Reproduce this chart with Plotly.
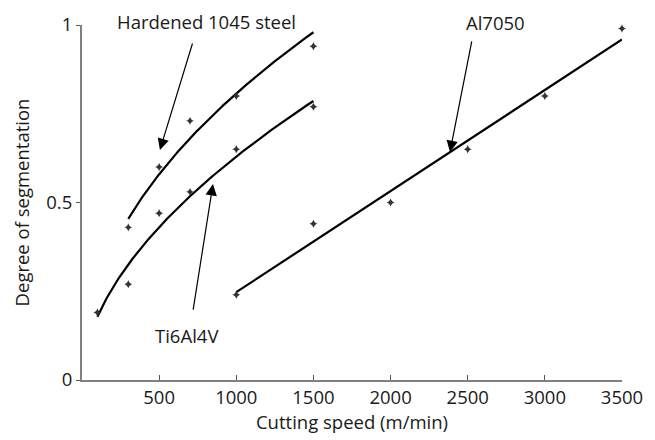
import numpy as np
import plotly.graph_objects as go

# Measured data
steel_speed = [300, 500, 700, 1000, 1500]
steel_seg = [0.43, 0.60, 0.73, 0.80, 0.94]

ti_speed = [100, 300, 500, 700, 1000, 1500]
ti_seg = [0.19, 0.27, 0.47, 0.53, 0.65, 0.77]

al_speed = [1000, 1500, 2000, 2500, 3000, 3500]
al_seg = [0.24, 0.44, 0.50, 0.65, 0.80, 0.99]

x_ticks = [500, 1000, 1500, 2000, 2500, 3000, 3500]
y_ticks = [0, 0.5, 1]

FONT = "Open Sans"
FS = 18.5


def power_fit(xs, ys):
    xs = np.asarray(xs, float)
    ys = np.asarray(ys, float)
    b, lna = np.polyfit(np.log(xs), np.log(ys), 1)
    xf = np.linspace(xs.min(), xs.max(), 200)
    return xf, np.exp(lna) * xf ** b


def linear_fit(xs, ys):
    xs = np.asarray(xs, float)
    ys = np.asarray(ys, float)
    m, c = np.polyfit(xs, ys, 1)
    xf = np.linspace(xs.min(), xs.max(), 50)
    return xf, m * xf + c


fig = go.Figure()

for (xs, ys, kind) in [(steel_speed, steel_seg, "pow"),
                       (ti_speed, ti_seg, "pow"),
                       (al_speed, al_seg, "lin")]:
    xf, yf = power_fit(xs, ys) if kind == "pow" else linear_fit(xs, ys)
    fig.add_trace(go.Scatter(x=xf, y=yf, mode="lines",
                             line=dict(color="black", width=2.2),
                             showlegend=False, hoverinfo="skip"))
    fig.add_trace(go.Scatter(x=xs, y=ys, mode="markers",
                             marker=dict(symbol="star-diamond", size=6,
                                         color="#333333"),
                             showlegend=False, cliponaxis=False))

arrows = [
    # tip x, tip y, tail x, tail y
    (505, 0.648, 719, 0.952),
    (849, 0.552, 719, 0.194),
    (2385, 0.642, 2528, 0.958),
]
for tx, ty, sx, sy in arrows:
    fig.add_annotation(x=tx, y=ty, ax=sx, ay=sy, xref="x", yref="y",
                       axref="x", ayref="y", text="", showarrow=True,
                       arrowhead=2, arrowsize=1.9, arrowwidth=1.2,
                       arrowcolor="black", standoff=0)

labels = [
    ("Hardened 1045 steel", 810, 1.011),
    ("Ti6Al4V", 681, 0.124),
    ("Al7050", 2677, 1.008),
]
for txt, lx, ly in labels:
    fig.add_annotation(x=lx, y=ly, xref="x", yref="paper", text=txt,
                       xanchor="center", yanchor="middle",
                       showarrow=False, font=dict(family=FONT, size=FS,
                                                  color="#1a1a1a"))

fig.update_layout(
    width=655, height=440,
    margin=dict(l=74, r=41, t=17, b=68),
    plot_bgcolor="white", paper_bgcolor="white",
    font=dict(family=FONT, size=FS, color="#1a1a1a"),
    xaxis=dict(range=[0, 3500], tickvals=x_ticks, ticks="inside",
               ticklen=5, tickcolor="#555555", showline=True,
               linecolor="#808080", linewidth=2, showgrid=False,
               zeroline=False, automargin=False,
               title=dict(text="Cutting speed (m/min)", standoff=6,
                          font=dict(size=FS)),
               tickfont=dict(size=FS)),
    yaxis=dict(range=[0, 1], tickvals=y_ticks, ticks="outside",
               ticklen=4, tickcolor="#555555", showline=True,
               linecolor="#808080", linewidth=2, showgrid=False,
               zeroline=False, automargin=False,
               title=dict(text="Degree of segmentation", standoff=12,
                          font=dict(size=FS)),
               tickfont=dict(size=FS)),
)

fig.write_html("out.html")
